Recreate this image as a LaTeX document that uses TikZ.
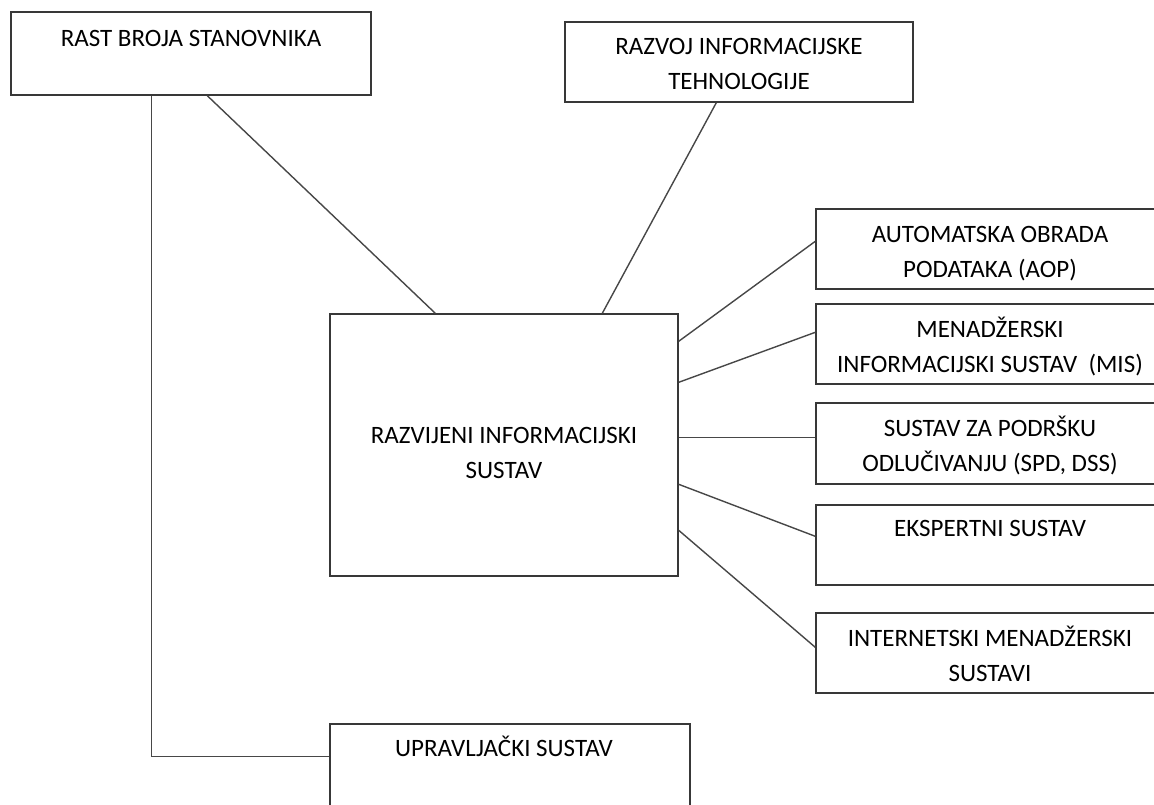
\documentclass[tikz,border=0pt]{standalone}
\usepackage{fontspec}
\setmainfont{Carlito}
\usetikzlibrary{positioning}

\begin{document}
\begin{tikzpicture}[x=1pt,y=-1pt,
    box/.style={draw=black!78,line width=1.4pt,inner sep=0pt},
    txt/.style={anchor=base,align=center,inner sep=0pt,font=\fontsize{25}{35}\selectfont},
    link/.style={draw=black!72,line width=1.4pt}]
  \useasboundingbox (0,0) rectangle (1154,804);
  % boxes
  \node[box,minimum width=360pt,minimum height=83pt] (rast) at (191,53.5) {};
  \node[box,minimum width=348pt,minimum height=80pt] (razvoj) at (739,62) {};
  \node[box,minimum width=348pt,minimum height=262pt] (ris) at (504,445) {};
  \node[box,minimum width=348pt,minimum height=80pt] (aop) at (990,249) {};
  \node[box,minimum width=348pt,minimum height=80pt] (mis) at (990,344) {};
  \node[box,minimum width=348pt,minimum height=81pt] (spd) at (990,443.5) {};
  \node[box,minimum width=348pt,minimum height=80pt] (es) at (990,545) {};
  \node[box,minimum width=348pt,minimum height=80pt] (ims) at (990,653) {};
  \node[box,minimum width=360pt,minimum height=100pt] (us) at (510,774) {};
  % texts (two-line ones sit on their last baseline)
  \node[txt] (rast-t) at ([yshift=-35pt]rast.north) {RAST BROJA STANOVNIKA};
  \node[txt] (razvoj-t) at ([yshift=-68pt]razvoj.north) {RAZVOJ INFORMACIJSKE\\TEHNOLOGIJE};
  \node[txt] (ris-t) at ([yshift=-165pt]ris.north) {RAZVIJENI INFORMACIJSKI\\SUSTAV};
  \node[txt] (aop-t) at ([yshift=-69pt]aop.north) {AUTOMATSKA OBRADA\\PODATAKA (AOP)};
  \node[txt] (mis-t) at ([yshift=-69pt]mis.north) {MENADŽERSKI\\INFORMACIJSKI SUSTAV\ \ (MIS)};
  \node[txt] (spd-t) at ([yshift=-69pt]spd.north) {SUSTAV ZA PODRŠKU\\ODLUČIVANJU (SPD, DSS)};
  \node[txt] (es-t) at ([yshift=-32pt]es.north) {EKSPERTNI SUSTAV};
  \node[txt] (ims-t) at ([yshift=-69pt]ims.north) {INTERNETSKI MENADŽERSKI\\SUSTAVI};
  \node[txt] (us-t) at ([yshift=-33pt,xshift=-6pt]us.north) {UPRAVLJAČKI SUSTAV};
  % connectors
  \draw[link] ([xshift=197pt]rast.south west) -- ([xshift=106pt]ris.north west);
  \draw[link] ([xshift=141pt]rast.south west) |- ([yshift=-33pt]us.north west);
  \draw[link] ([xshift=152pt]razvoj.south west) -- ([xshift=273pt]ris.north west);
  \draw[link] ([yshift=-28pt]ris.north east) -- ([yshift=-33pt]aop.north west);
  \draw[link] ([yshift=-69pt]ris.north east) -- ([yshift=-29pt]mis.north west);
  \draw[link] ([yshift=-124pt]ris.north east) -- ([yshift=-35pt]spd.north west);
  \draw[link] ([yshift=-171pt]ris.north east) -- ([yshift=-32pt]es.north west);
  \draw[link] ([yshift=-217pt]ris.north east) -- ([yshift=-35pt]ims.north west);
\end{tikzpicture}
\end{document}
